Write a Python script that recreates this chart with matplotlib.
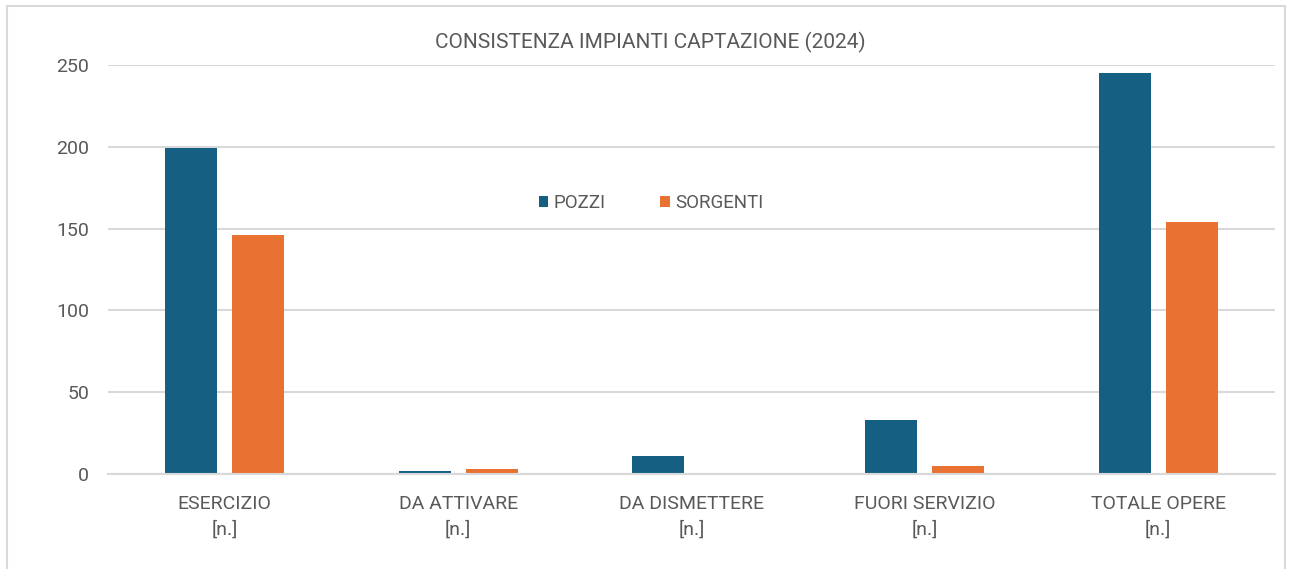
import matplotlib
matplotlib.use("Agg")
import matplotlib.pyplot as plt
import numpy as np

categories = ["ESERCIZIO\n[n.]", "DA ATTIVARE\n[n.]", "DA DISMETTERE\n[n.]", "FUORI SERVIZIO\n[n.]", "TOTALE OPERE\n[n.]"]
pozzi = [199, 2, 11, 33, 245]
sorgenti = [146, 3, 0, 5, 154]
yticks = [0, 50, 100, 150, 200, 250]

plt.rcParams['font.family'] = ['Roboto', 'DejaVu Sans']
txt = '#595959'
grid = '#D9D9D9'

fig = plt.figure(figsize=(12.92, 5.69), dpi=100)
ax = fig.add_axes([108/1292, 1-474/569, (1275-108)/1292, (474-65)/569])

x = np.arange(len(categories))
w = 0.223
gap = 0.064
ax.bar(x - (w+gap)/2, pozzi, w, color='#156082', label='POZZI', zorder=3)
ax.bar(x + (w+gap)/2, sorgenti, w, color='#E97132', label='SORGENTI', zorder=3)

ax.set_xlim(-0.5, len(categories)-0.5)
ax.set_ylim(0, 250)
ax.set_yticks(yticks)
ax.set_xticks(x)
ax.set_xticklabels(categories, linespacing=1.5)
ax.yaxis.grid(True, color=grid, linewidth=1.5, zorder=0)
for s in ['top', 'right', 'left']:
    ax.spines[s].set_visible(False)
ax.spines['bottom'].set_color(grid)
ax.spines['bottom'].set_linewidth(1.5)
ax.spines['bottom'].set_zorder(4)
ax.tick_params(axis='both', length=0, colors=txt, labelsize=14)
ax.tick_params(axis='y', pad=13.5)
ax.tick_params(axis='x', pad=15)

fig.text(650/1292, 1-42/569, "CONSISTENZA IMPIANTI CAPTAZIONE (2024)", ha='center', va='center',
         color=txt, fontsize=15)

leg = ax.legend(loc='center', bbox_to_anchor=((651-108)/1167, (474-203)/409), ncol=2,
                frameon=False, fontsize=13.5, handlelength=0.5, handleheight=0.5,
                columnspacing=2.9, handletextpad=0.3)
for t in leg.get_texts():
    t.set_color(txt)

# outer border
fig.patches.append(plt.Rectangle((7/1292, -0.01), (1285-7)/1292, 1-6/569+0.01, transform=fig.transFigure,
                                 fill=False, edgecolor='#D9D9D9', linewidth=1.5))

fig.savefig("out.png", dpi=100)
